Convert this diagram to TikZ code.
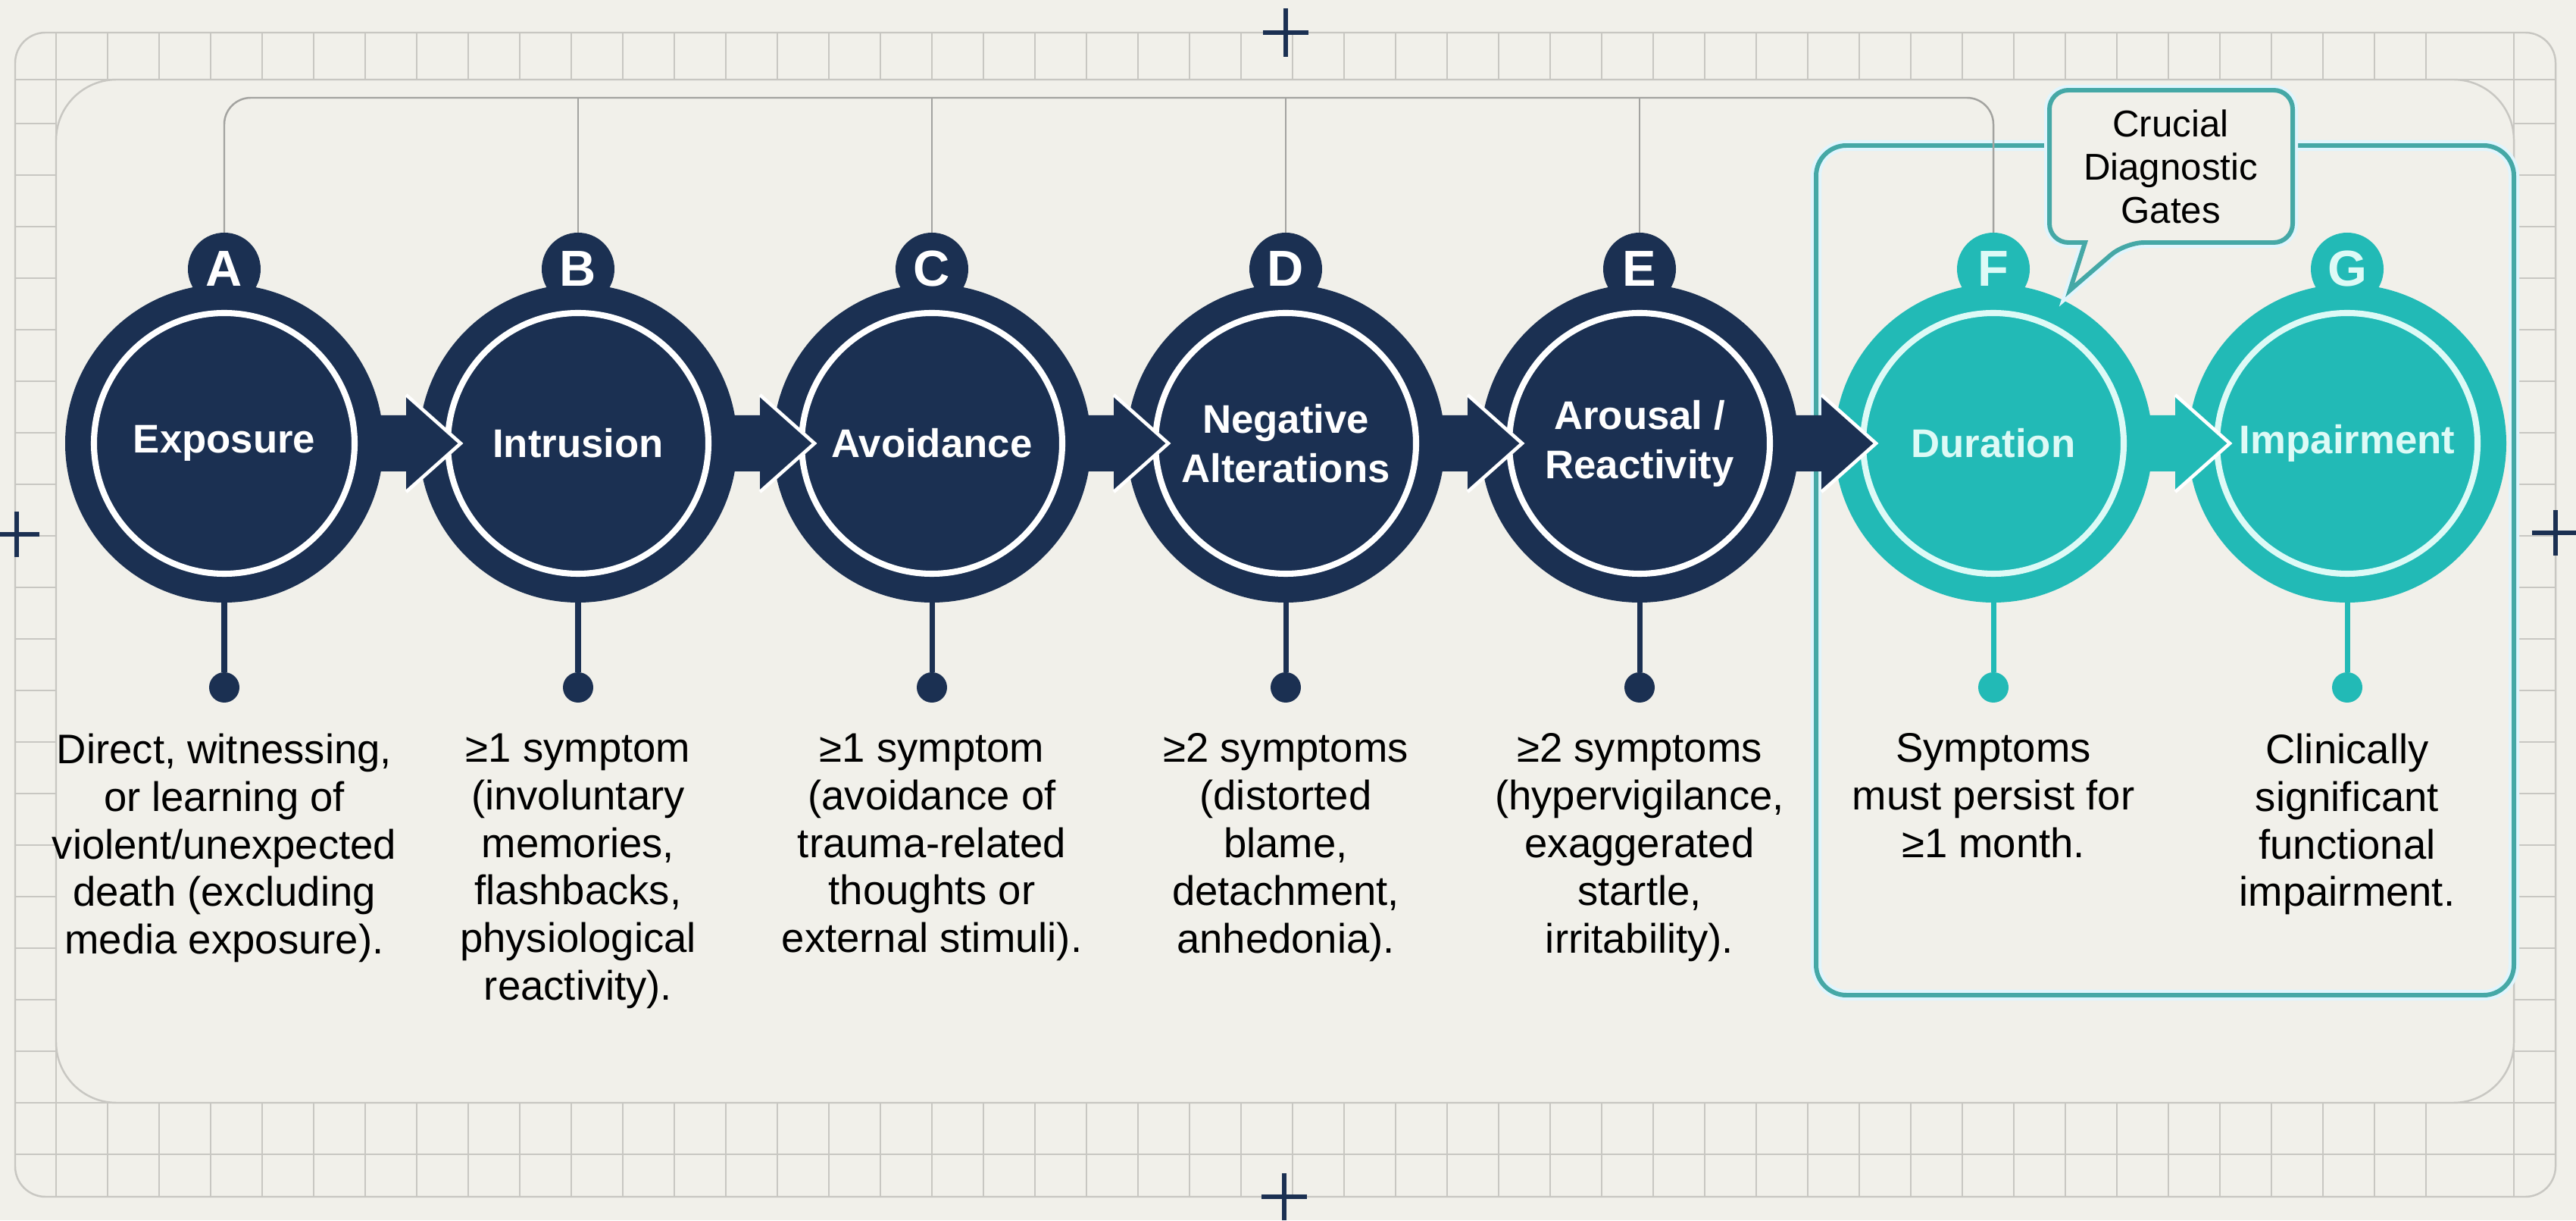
\documentclass[tikz,border=0pt]{standalone}
\usepackage{fontspec}
\setmainfont{Liberation Sans}
\usetikzlibrary{positioning}

\definecolor{paper}{HTML}{F1F0EA}
\definecolor{gridgray}{HTML}{C8C7C2}
\definecolor{conngray}{HTML}{A3A3A0}
\definecolor{navy}{HTML}{1B3052}
\definecolor{gteal}{HTML}{22BAB6}
\definecolor{gline}{HTML}{45A8A6}
\definecolor{gpale}{HTML}{DDFAF6}

% block arrow from one stage to the next: from, to, colour
\newcommand{\flowarrow}[3]{%
  \fill[#3] ([xshift=-3mm,yshift=3.7mm]#1.east) -- ([xshift=3mm,yshift=3.7mm]#1.east)
    -- ([xshift=3mm,yshift=6.4mm]#1.east) -- ([xshift=5.5mm]#2.west)
    -- ([xshift=3mm,yshift=-6.4mm]#1.east) -- ([xshift=3mm,yshift=-3.7mm]#1.east)
    -- ([xshift=-3mm,yshift=-3.7mm]#1.east) -- cycle;
  \draw[white, line width=1.3pt] ([xshift=3mm,yshift=6.4mm]#1.east)
    -- ([xshift=5.5mm]#2.west) -- ([xshift=3mm,yshift=-6.4mm]#1.east);
}

\begin{document}
\begin{tikzpicture}[
  gridln/.style={draw=gridgray, line width=0.7pt},
  crossmk/.style={draw=navy, line width=1.8pt},
  conn/.style={draw=conngray, line width=0.7pt},
  stage/.style={circle, fill=navy, minimum size=4.2cm, inner sep=0pt, outer sep=0pt,
                align=center, text=white, font=\bfseries\fontsize{15}{18.5}\selectfont,
                path picture={\draw[white, line width=2.3pt]
                  (path picture bounding box.center) circle (1.72);}},
  gatestage/.style={stage, fill=gteal, text=gpale,
                path picture={\draw[gpale, line width=2.3pt]
                  (path picture bounding box.center) circle (1.72);}},
  letter/.style={circle, fill=navy, minimum size=0.96cm, inner sep=0pt, outer sep=0pt,
                 text=white, font=\bfseries\fontsize{19}{19}\selectfont},
  gateletter/.style={letter, fill=gteal, text=gpale},
  knob/.style={circle, fill=navy, minimum size=0.4cm, inner sep=0pt, outer sep=0pt},
  gateknob/.style={knob, fill=gteal},
  stemln/.style={draw=navy, line width=2pt},
  gatestemln/.style={draw=gteal, line width=2pt},
  desc/.style={align=center, inner sep=0pt, font=\fontsize{15.5}{17.9}\selectfont},
  gateln/.style={draw=gline, line width=1.7pt, preaction={draw=cyan!12, line width=4pt}}]

  \def\cy{10.25}

  % Page and frame
  \useasboundingbox (0,0) rectangle (34,16.1);
  \fill[paper] (0,0) rectangle (34,16.1);
  \draw[gridln, rounded corners=4mm] (0.20,0.31) rectangle (33.73,15.67);
  \draw[gridln] (0.20,15.05) -- (33.73,15.05);
  \draw[gridln] (0.20,1.55) -- (33.73,1.55);
  \draw[gridln] (0.20,0.87) -- (33.73,0.87);
  \draw[gridln] (0.74,0.31) -- (0.74,15.67);
  \draw[gridln] (33.18,0.31) -- (33.18,15.67);
  \foreach \x in {1.42,2.10,...,32.6} {
    \draw[gridln] (\x,15.05) -- (\x,15.67);
    \draw[gridln] (\x,0.31) -- (\x,1.55);
  }
  \foreach \y in {2.23,2.91,...,14.5} {
    \draw[gridln] (0.20,\y) -- (0.74,\y);
    \draw[gridln] (33.18,\y) -- (33.73,\y);
  }
  \draw[gridln, fill=paper, rounded corners=8mm] (0.74,1.55) rectangle (33.18,15.05);

  % Register crosses
  \draw[crossmk] (16.97,15.35) -- (16.97,15.99) (16.67,15.67) -- (17.27,15.67);
  \draw[crossmk] (16.95,0.00) -- (16.95,0.62) (16.65,0.31) -- (17.25,0.31);
  \draw[crossmk] (0.22,8.75) -- (0.22,9.35) (-0.10,9.05) -- (0.52,9.05);
  \draw[crossmk] (33.73,8.77) -- (33.73,9.37) (33.42,9.07) -- (34.05,9.07);

  % Gate group box
  \draw[gateln, rounded corners=4mm] (23.97,2.97) rectangle (33.18,14.18);

  % Stages
  \node[stage] (cA) at (2.96,\cy) {Exposure};
  \node[stage] (cB) at (7.63,\cy) {Intrusion};
  \node[stage] (cC) at (12.30,\cy) {Avoidance};
  \node[stage] (cD) at (16.97,\cy) {Negative\\Alterations};
  \node[stage] (cE) at (21.64,\cy) {Arousal /\\Reactivity};
  \node[gatestage] (cF) at (26.31,\cy) {Duration};
  \node[gatestage] (cG) at (30.98,\cy) {Impairment};

  % Letter tags on top
  \node[letter] (tA) at (2.96,12.55) {A};
  \node[letter] (tB) at (7.63,12.55) {B};
  \node[letter] (tC) at (12.30,12.55) {C};
  \node[letter] (tD) at (16.97,12.55) {D};
  \node[letter] (tE) at (21.64,12.55) {E};
  \node[gateletter] (tF) at (26.31,12.55) {F};
  \node[gateletter] (tG) at (30.98,12.55) {G};

  % Thin bus joining the tags A..F
  \coordinate (bus) at (0,14.81);
  \draw[conn, rounded corners=3.5mm] (tA.north) -- (tA.north |- bus) -- (tF.north |- bus) -- (tF.north);
  \draw[conn] (tB.north) -- (tB.north |- bus);
  \draw[conn] (tC.north) -- (tC.north |- bus);
  \draw[conn] (tD.north) -- (tD.north |- bus);
  \draw[conn] (tE.north) -- (tE.north |- bus);

  % Arrows
  \flowarrow{cA}{cB}{navy}
  \flowarrow{cB}{cC}{navy}
  \flowarrow{cC}{cD}{navy}
  \flowarrow{cD}{cE}{navy}
  \flowarrow{cE}{cF}{navy}
  \flowarrow{cF}{cG}{gteal}

  % Stems and knobs
  \node[knob] (dA) at (2.96,7.03) {};
  \node[knob] (dB) at (7.63,7.03) {};
  \node[knob] (dC) at (12.30,7.03) {};
  \node[knob] (dD) at (16.97,7.03) {};
  \node[knob] (dE) at (21.64,7.03) {};
  \node[gateknob] (dF) at (26.31,7.03) {};
  \node[gateknob] (dG) at (30.98,7.03) {};
  \draw[stemln] (cA) -- (dA);
  \draw[stemln] (cB) -- (dB);
  \draw[stemln] (cC) -- (dC);
  \draw[stemln] (cD) -- (dD);
  \draw[stemln] (cE) -- (dE);
  \draw[gatestemln] (cF) -- (dF);
  \draw[gatestemln] (cG) -- (dG);

  % Criteria text
  \node[desc, below=4mm of dA] (xA) {Direct, witnessing,\\or learning of\\violent/unexpected\\death (excluding\\media exposure).};
  \node[desc, below=4mm of dB] (xB) {≥1 symptom\\(involuntary\\memories,\\flashbacks,\\physiological\\reactivity).};
  \node[desc, below=4mm of dC] (xC) {≥1 symptom\\(avoidance of\\trauma-related\\thoughts or\\external stimuli).};
  \node[desc, below=4mm of dD] (xD) {≥2 symptoms\\(distorted\\blame,\\detachment,\\anhedonia).};
  \node[desc, below=4mm of dE] (xE) {≥2 symptoms\\(hypervigilance,\\exaggerated\\startle,\\irritability).};
  \node[desc, below=4mm of dF] (xF) {Symptoms\\must persist for\\≥1 month.};
  \node[desc, below=4mm of dG] (xG) {Clinically\\significant\\functional\\impairment.};

  % Callout
  \draw[gateln, fill=paper] (27.05,13.9) [rounded corners=2.5mm] -- (27.05,14.91) -- (30.26,14.91)
    -- (30.26,12.90) -- (28.05,12.90) [sharp corners] -- (27.32,12.27) -- (27.52,12.90)
    [rounded corners=2.5mm] -- (27.05,12.90) -- cycle;
  \node[align=center, font=\fontsize{14}{16.2}\selectfont] (gates) at (28.65,13.90) {Crucial\\Diagnostic\\Gates};

\end{tikzpicture}
\end{document}
